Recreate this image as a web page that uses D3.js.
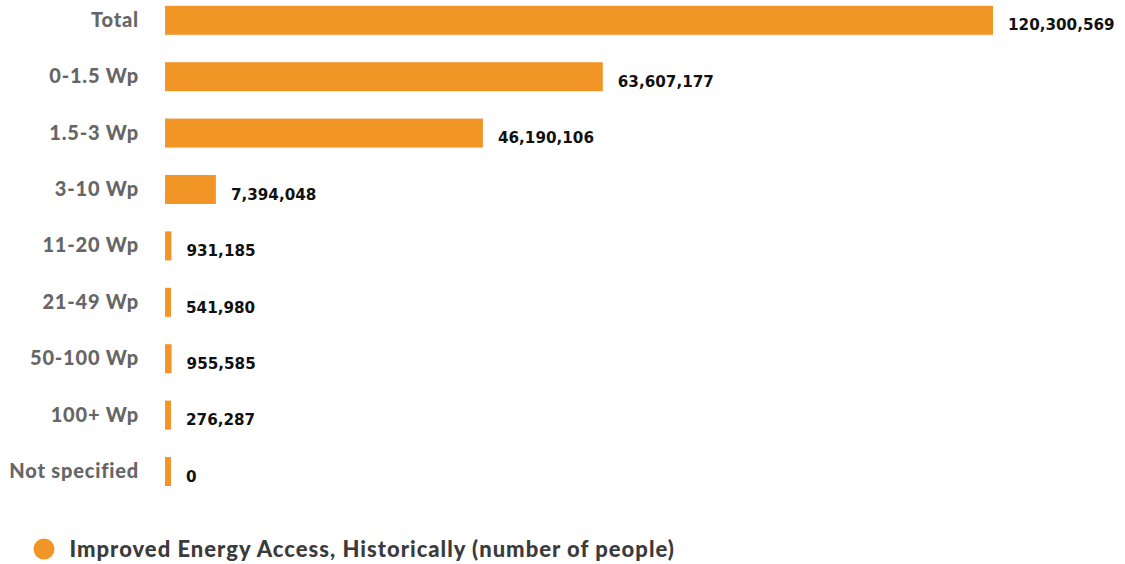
<!DOCTYPE html>
<html>
<head>
<meta charset="utf-8">
<script src="https://cdn.jsdelivr.net/npm/d3@7"></script>
<style>
  html, body { margin: 0; padding: 0; background: #fff; }
  svg { display: block; }
  text { font-family: "Lato", "Open Sans", sans-serif; font-weight: 700; }
</style>
</head>
<body>
<svg id="chart" width="1125" height="564"></svg>
<script>
// Capacity classes and number of people reached
const categories = ["Total", "0-1.5 Wp", "1.5-3 Wp", "3-10 Wp", "11-20 Wp", "21-49 Wp", "50-100 Wp", "100+ Wp", "Not specified"];
const people = [120300569, 63607177, 46190106, 7394048, 931185, 541980, 955585, 276287, 0];
const seriesName = "Improved Energy Access, Historically (number of people)";

const barColor = "#F29527";
const minBar = 6; // keep tiny values visible

const svg = d3.select("#chart");
const left = 165;

const x = d3.scaleLinear().domain([0, 120300569]).range([0, 828]);
const y = d3.scaleBand().domain(categories).range([5.8, 486]).paddingInner(0.486).paddingOuter(0);

const rows = categories.map((c, i) => ({ c, v: people[i] }));

const g = svg.append("g").attr("transform", `translate(${left},0)`);

g.selectAll("rect.bar").data(rows).join("rect")
  .attr("class", "bar")
  .attr("x", 0)
  .attr("y", d => y(d.c))
  .attr("width", d => Math.max(x(d.v), minBar))
  .attr("height", y.bandwidth())
  .attr("fill", barColor);

g.selectAll("text.val").data(rows).join("text")
  .attr("class", "val")
  .attr("x", d => Math.max(x(d.v), minBar) + 15)
  .attr("y", d => y(d.c) + y.bandwidth() / 2 + 10.2)
  .attr("fill", "#111")
  .attr("font-size", 15.2)
  .style("font-family", "'DejaVu Sans', sans-serif")
  .style("font-weight", 700)
  .text(d => d3.format(",")(d.v));

// category axis labels
const yAxis = d3.axisLeft(y).tickSize(0).tickPadding(0);
const ax = svg.append("g").attr("transform", "translate(139,0)").call(yAxis);
ax.select(".domain").remove();
ax.selectAll("text")
  .attr("font-size", 20)
  .attr("fill", "#666")
  .attr("dy", null)
  .attr("y", 6.5)
  .attr("letter-spacing", 0.8)
  .style("font-family", "Lato, 'Open Sans', sans-serif")
  .style("font-weight", 900);

// legend
const lg = svg.append("g").attr("transform", "translate(44,549)");
lg.append("circle").attr("r", 10.5).attr("fill", barColor);
lg.append("text").attr("x", 25.5).attr("y", 8.3)
  .attr("font-size", 22).attr("fill", "#3b3b3b")
  .attr("letter-spacing", 1.0)
  .style("font-weight", 900)
  .text(seriesName);
</script>
</body>
</html>
